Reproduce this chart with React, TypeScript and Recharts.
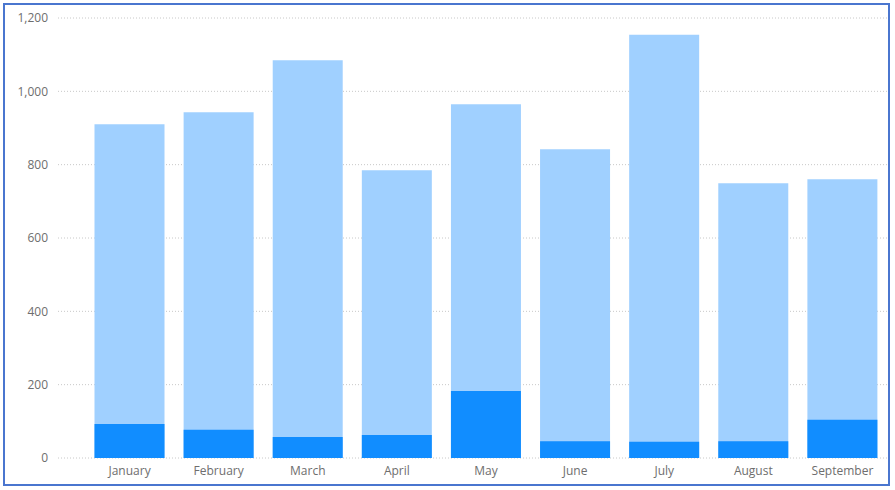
import { Bar, BarChart, CartesianGrid, XAxis, YAxis } from "recharts";

const months = [
  "January",
  "February",
  "March",
  "April",
  "May",
  "June",
  "July",
  "August",
  "September",
];
// light bars (total) and dark bars drawn in front of them
const totals = [910, 943, 1085, 785, 965, 842, 1154, 749, 760];
const values = [93, 77, 57, 63, 183, 46, 44, 46, 104];
const yTicks = [0, 200, 400, 600, 800, 1000, 1200];

const data = months.map((month, i) => ({
  month,
  total: totals[i],
  value: values[i],
}));

const tickStyle = {
  fontSize: 12,
  fill: "#6E6E6E",
  fontFamily: "'Open Sans', 'Noto Sans', sans-serif",
};

export default function App() {
  return (
    <div
      style={{
        position: "absolute",
        left: 0,
        top: 0,
        width: 895,
        height: 490,
        background: "#fff",
      }}
    >
      <div
        style={{
          position: "absolute",
          left: 3,
          top: 3,
          width: 887,
          height: 483,
          border: "2px solid #4A76CF",
          boxSizing: "border-box",
        }}
      />
      <div style={{ position: "absolute", left: 0, top: 0 }}>
        <BarChart
          width={895}
          height={490}
          data={data}
          margin={{ top: 18, right: 8, bottom: 2, left: 0 }}
          barCategoryGap={9.5}
        >
          <CartesianGrid
            vertical={false}
            stroke="#C8C8C8"
            strokeDasharray="1 2"
          />
          <XAxis
            xAxisId="back"
            dataKey="month"
            tickLine={false}
            axisLine={false}
            height={30}
            padding={{ left: 27, right: 0 }}
            tick={tickStyle}
            interval={0}
          />
          <XAxis
            xAxisId="front"
            dataKey="month"
            hide
            padding={{ left: 27, right: 0 }}
          />
          <YAxis
            width={58}
            domain={[0, 1200]}
            ticks={yTicks}
            tickLine={false}
            axisLine={false}
            tickMargin={4}
            tick={tickStyle}
            tickFormatter={(v: number) => v.toLocaleString("en-US")}
          />
          <Bar
            xAxisId="back"
            dataKey="total"
            fill="#A0D0FF"
            isAnimationActive={false}
          />
          <Bar
            xAxisId="front"
            dataKey="value"
            fill="#118DFF"
            isAnimationActive={false}
          />
        </BarChart>
      </div>
    </div>
  );
}
